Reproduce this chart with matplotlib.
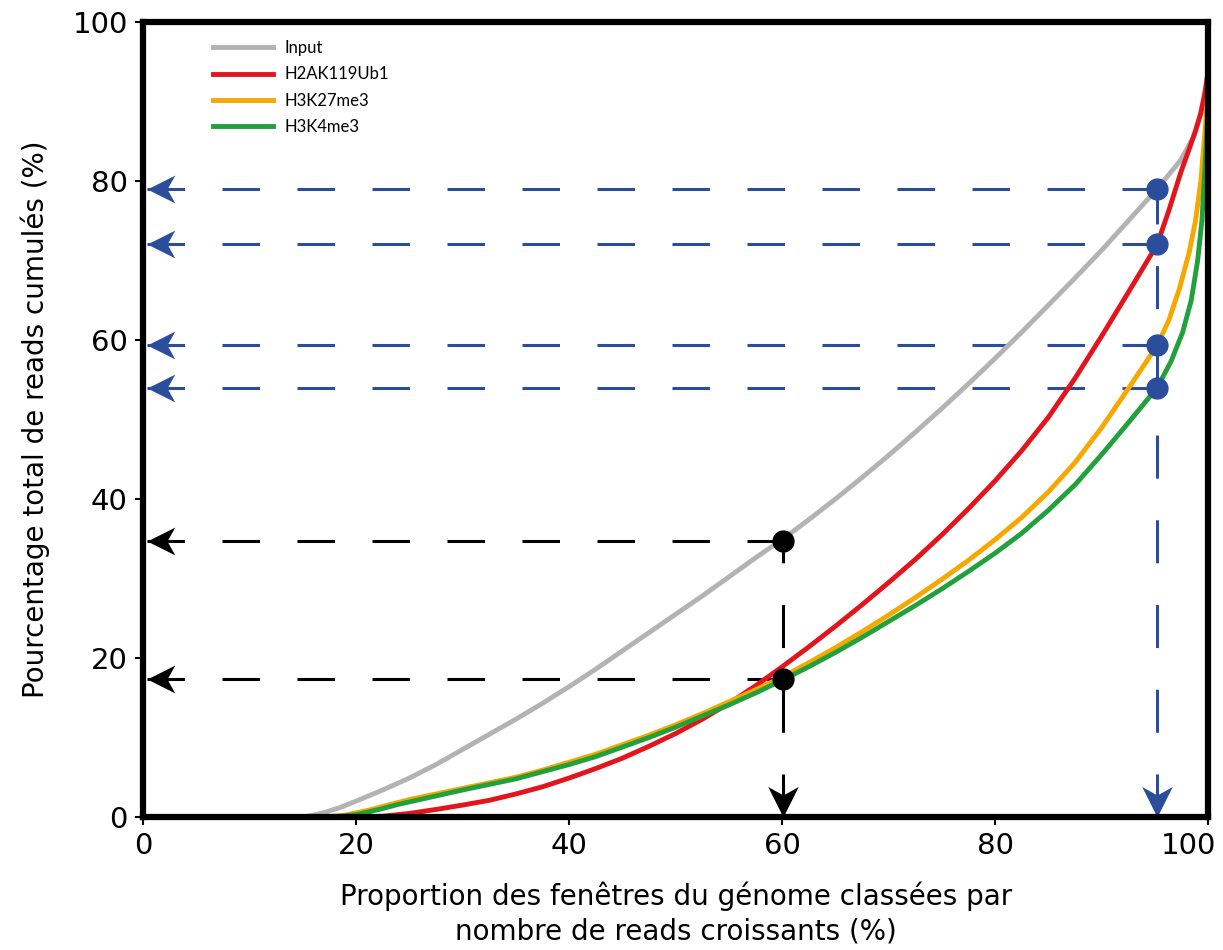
import matplotlib
matplotlib.use("Agg")
import matplotlib.pyplot as plt
from matplotlib.path import Path
from matplotlib.transforms import ScaledTranslation

# cumulative read curves (x = % of genome windows, y = % of reads)
input_x = [0, 14.7, 15.5, 17, 18.5, 20, 22.5, 25, 27.5, 30, 32.5, 35, 37.5, 40, 42.5, 45,
           47.5, 50, 52.5, 55, 57.5, 60, 62.5, 65, 67.5, 70, 72.5, 75, 77.5, 80, 82.5,
           85, 87.5, 90, 92.5, 95.2, 96.3, 97.4, 98.6, 99.0, 99.4, 99.7, 100]
input_y = [0, 0, 0.1, 0.55, 1.2, 2.0, 3.4, 4.9, 6.6, 8.5, 10.4, 12.3, 14.3, 16.4, 18.6, 20.9,
           23.2, 25.5, 27.8, 30.2, 32.6, 34.9, 37.4, 40.0, 42.7, 45.5, 48.4, 51.4, 54.5, 57.7, 61.0,
           64.4, 67.8, 71.3, 75.0, 79.0, 80.8, 82.6, 85.5, 87.2, 89.3, 90.6, 92.0]

h2ak_x = [0, 21, 22.5, 25, 27.5, 30, 32.5, 35, 37.5, 40, 42.5, 45, 47.5, 50, 52.5, 55,
          57.5, 60, 62.5, 65, 67.5, 70, 72.5, 75, 77.5, 80, 82.5, 85, 87.5, 90, 92.5,
          95.2, 96.3, 97.4, 98.2, 98.8, 99.3, 99.7, 100]
h2ak_y = [0, 0, 0.1, 0.45, 0.95, 1.5, 2.1, 2.9, 3.8, 4.9, 6.1, 7.4, 8.9, 10.5, 12.3, 14.3,
          16.5, 18.9, 21.4, 24.0, 26.7, 29.5, 32.4, 35.5, 38.8, 42.3, 46.1, 50.3, 55.2, 60.5, 66.0,
          72.0, 76.3, 81.0, 84.0, 86.3, 88.5, 91.3, 94.0]

h3k27_x = [0, 17, 19, 21, 23, 25, 27.5, 30, 32.5, 35, 37.5, 40, 42.5, 45, 47.5, 50,
           52.5, 55, 57.5, 60, 62.5, 65, 67.5, 70, 72.5, 75, 77.5, 80, 82.5, 85, 87.5,
           90, 92.5, 95.2, 96.3, 97.3, 98.2, 98.8, 99.3, 99.7, 100]
h3k27_y = [0, 0, 0.25, 0.8, 1.5, 2.2, 2.9, 3.6, 4.3, 5.0, 5.9, 6.9, 7.9, 9.1, 10.3, 11.6,
           13.0, 14.5, 16.0, 17.6, 19.4, 21.3, 23.3, 25.4, 27.6, 29.9, 32.3, 34.9, 37.7, 40.9, 44.6,
           49.0, 53.9, 59.3, 62.5, 66.5, 71.0, 75.0, 80.0, 86.5, 92.0]

h3k4_x = [0, 18, 20, 22, 24, 26, 28, 30, 32.5, 35, 37.5, 40, 42.5, 45, 47.5, 50,
          52.5, 55, 57.5, 60, 62.5, 65, 67.5, 70, 72.5, 75, 77.5, 80, 82.5, 85, 87.5,
          90, 92.5, 95.2, 96.5, 97.6, 98.4, 99.0, 99.4, 99.7, 100]
h3k4_y = [0, 0, 0.3, 0.9, 1.6, 2.2, 2.8, 3.4, 4.1, 4.8, 5.7, 6.6, 7.6, 8.8, 10.0, 11.3,
          12.7, 14.1, 15.6, 17.2, 18.9, 20.7, 22.6, 24.6, 26.6, 28.7, 30.9, 33.2, 35.7, 38.6, 41.8,
          45.6, 49.6, 54.0, 57.3, 61.0, 65.0, 70.0, 75.0, 82.0, 90.0]

# reading points
blue_x = 95.2
blue_y = [79.0, 72.0, 59.3, 54.0]
black_x = 60.1
black_y = [34.7, 17.3]

labels = ["Input", "H2AK119Ub1", "H3K27me3", "H3K4me3"]
colors = ["#b3b3b3", "#e3141b", "#f7a800", "#22a03b"]
blue = "#2a4d9c"

plt.rcParams["lines.scale_dashes"] = False

fig = plt.figure(figsize=(12.23, 9.5), dpi=100)
ax = fig.add_axes([0.117, 0.14, 0.871, 0.837])

# arrow heads as markers (tip at the origin)
left_head = Path([(0, 0), (1, 0.5), (0.72, 0), (1, -0.5), (0, 0)],
                 [Path.MOVETO, Path.LINETO, Path.LINETO, Path.LINETO, Path.CLOSEPOLY])
down_head = Path([(0, 0), (0.5, 1), (0, 0.72), (-0.5, 1), (0, 0)],
                 [Path.MOVETO, Path.LINETO, Path.LINETO, Path.LINETO, Path.CLOSEPOLY])

def guide(y_vals, x_dot, col):
    for yv in y_vals:
        ax.plot([0.4, x_dot], [yv, yv], color=col, lw=2.2, ls=(0, (27, 27)), zorder=1)
        ax.plot([0.4], [yv], marker=left_head, ms=40, color=col, mew=0, zorder=1)
    ax.plot([x_dot, x_dot], [0, max(y_vals)], color=col, lw=2.2, ls=(0, (31, 30)), zorder=1)
    ax.plot([x_dot], [0], marker=down_head, ms=44, color=col, mew=0, zorder=1, clip_on=False)

guide(blue_y, blue_x, blue)
guide(black_y, black_x, "black")

for xs, ys, lab, c in zip([input_x, h2ak_x, h3k27_x, h3k4_x],
                          [input_y, h2ak_y, h3k27_y, h3k4_y], labels, colors):
    ax.plot(xs, ys, color=c, lw=3.5, label=lab, zorder=2, solid_joinstyle="round")

ax.plot([blue_x] * len(blue_y), blue_y, "o", color=blue, ms=15, zorder=4)
ax.plot([black_x] * len(black_y), black_y, "o", color="black", ms=15, zorder=4)

ax.set_xlim(0, 100)
ax.set_ylim(0, 100)
ax.set_xticks(range(0, 101, 20))
ax.set_yticks(range(0, 101, 20))
ax.tick_params(labelsize=21, length=6, width=1.5, direction="out", pad=5)
for sp in ax.spines.values():
    sp.set_linewidth(4.5)

# keep the last x tick label inside the figure
last = ax.get_xticklabels()[-1]
last.set_transform(last.get_transform() + ScaledTranslation(-20 / 100, 0, fig.dpi_scale_trans))

ax.set_xlabel("Proportion des fenêtres du génome classées par\nnombre de reads croissants (%)",
              fontsize=20, linespacing=1.3, labelpad=15)
ax.set_ylabel("Pourcentage total de reads cumulés (%)", fontsize=20, labelpad=16)

ax.legend(loc="upper left", bbox_to_anchor=(0.066, 0.977), frameon=False,
          prop={"family": "Lato", "size": 12}, handlelength=3.6, handletextpad=0.65,
          labelspacing=0.62, borderpad=0, borderaxespad=0)

fig.savefig("out.png", dpi=100)
